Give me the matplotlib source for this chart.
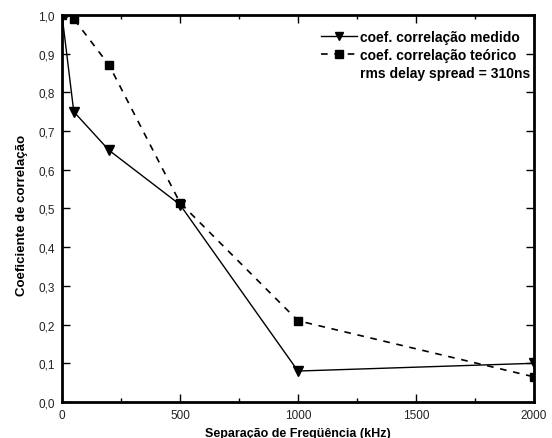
import matplotlib
matplotlib.use("Agg")
import matplotlib.pyplot as plt
from matplotlib.lines import Line2D
from matplotlib.ticker import MultipleLocator, FuncFormatter

x_med = [0, 50, 200, 500, 1000, 2000]
y_med = [1.0, 0.75, 0.65, 0.51, 0.08, 0.10]
x_teo = [0, 50, 200, 500, 1000, 2000]
y_teo = [1.0, 0.99, 0.87, 0.515, 0.21, 0.065]

plt.rcParams['font.family'] = ['Liberation Sans', 'DejaVu Sans']

fig = plt.figure(figsize=(5.52, 4.39), dpi=100)
ax = fig.add_axes([0.1123, 0.082, 0.855, 0.8816])

ax.plot(x_med, y_med, color='black', lw=1, marker='v', ms=7,
        label='coef. correlação medido')
ax.plot(x_teo, y_teo, color='black', lw=1.2, ls=(0, (4, 4)), marker='s', ms=6,
        label='coef. correlação teórico')

ax.set_xlim(0, 2000)
ax.set_ylim(0, 1.0)
ax.xaxis.set_major_locator(MultipleLocator(500))
ax.xaxis.set_minor_locator(MultipleLocator(250))
ax.yaxis.set_major_locator(MultipleLocator(0.1))
ax.yaxis.set_major_formatter(FuncFormatter(lambda v, p: f"{v:.1f}".replace('.', ',')))
ax.tick_params(which='both', direction='in', top=True, right=True, labelsize=8.5, pad=5,
               labelcolor='#222222')
ax.tick_params(which='major', length=6, width=1)
ax.tick_params(which='minor', length=3, width=1)
for s in ax.spines.values():
    s.set_linewidth(2)

ax.set_xlabel('Separação de Freqüência (kHz)', fontsize=9, fontweight='bold')
ax.xaxis.set_label_coords(0.5, -(434 - 403) / 387)
ax.xaxis.label.set_va('center')
ax.set_ylabel('Coeficiente de correlação', fontsize=9.5, fontweight='bold')
ax.yaxis.set_label_coords(-(62 - 28) / 472, 0.485)

extra = Line2D([], [], color='none')
leg = ax.legend(handles=[ax.lines[0], ax.lines[1], extra],
                labels=['coef. correlação medido', 'coef. correlação teórico', 'rms delay spread = 310ns'],
                loc='upper right', bbox_to_anchor=(1 - 4 / 472, 1 - 15 / 387),
                frameon=False, handlelength=2.6, handletextpad=0.2,
                labelspacing=0.3, borderaxespad=0, borderpad=0, markerscale=0.9,
                prop={'size': 10, 'weight': 'bold'})

fig.savefig('out.png', dpi=100)
